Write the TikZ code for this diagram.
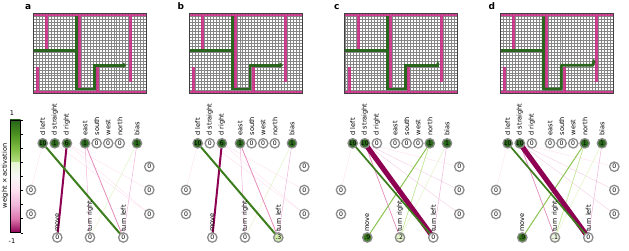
\documentclass[tikz,border=0pt]{standalone}
\usepackage{fontspec}
\setmainfont{DejaVu Sans}
\usetikzlibrary{backgrounds}
\definecolor{piA}{HTML}{276419}
\definecolor{piB}{HTML}{4D9221}
\definecolor{piC}{HTML}{7FBC41}
\definecolor{piD}{HTML}{B8E186}
\definecolor{piE}{HTML}{E6F5D0}
\definecolor{piF}{HTML}{F7F7F7}
\definecolor{piG}{HTML}{FDE0EF}
\definecolor{piH}{HTML}{F1B6DA}
\definecolor{piI}{HTML}{DE77AE}
\definecolor{piJ}{HTML}{C51B7D}
\definecolor{piK}{HTML}{8E0152}
\definecolor{wallc}{HTML}{CC2A85}
\definecolor{pathg}{HTML}{2A651D}
\definecolor{nodeg}{HTML}{2E6B1F}
\definecolor{nodeh}{HTML}{3A7A1F}
\definecolor{lg3}{HTML}{D3ECAE}
\definecolor{lg2}{HTML}{E3F3CB}
\definecolor{lg1}{HTML}{EEF6E2}
\def\cs{2.97}
\tikzset{
  neuron/.style={circle, draw=black!45, line width=1.3pt, minimum size=9.4pt, inner sep=0pt, fill=white, font=\fontsize{6.2}{7}\selectfont},
  lab/.style={rotate=90, anchor=west, inner sep=0pt, font=\fontsize{6.6}{7}\selectfont},
  gridln/.style={draw=black!48, line width=0.38pt},
  pathln/.style={draw=pathg, line width=2.8pt},
  panellab/.style={anchor=base west, inner sep=0pt, font=\fontsize{9}{10}\selectfont\bfseries},
  wall/.style={fill=wallc, fill opacity=0.88},
}
\newcommand\mazedraw[2]{%
\begin{scope}[shift={(#1,13.3)}]
  \foreach \i in {0,...,38} \draw[gridln] (\i*\cs,0) -- (\i*\cs,27*\cs);
  \foreach \j in {0,...,27} \draw[gridln] (0,\j*\cs) -- (38*\cs,\j*\cs);
  \fill[wall] (0,0) rectangle (38*\cs,\cs);
  \fill[wall] (0,26*\cs) rectangle (38*\cs,27*\cs);
  \fill[wall] (4*\cs,\cs) rectangle (5*\cs,12*\cs);
  \fill[wall] (15*\cs,\cs) rectangle (16*\cs,25*\cs);
  \fill[wall] (21*\cs,18*\cs) rectangle (22*\cs,26*\cs);
  \fill[wall] (32*\cs,\cs) rectangle (33*\cs,23*\cs);
  \fill[wall] (1*\cs,18*\cs) rectangle (2*\cs,26*\cs);
  \draw[pathln] (0,12.5*\cs) -- (14.5*\cs,12.5*\cs);
  #2
  \draw[black!75, line width=0.8pt] (0,0) rectangle (38*\cs,27*\cs);
\end{scope}}
\newcommand\topnodes[2]{\foreach \n/\x/\v/\fc in {#2} \node[neuron, fill=\fc] (#1-\n) at (\x,143.3) {\v};}
\newcommand\hidnodes[1]{\foreach \n/\x/\y in {L1/31/190, L2/31/214, R1/149.3/166.7, R2/149.3/190, R3/149.3/214} \node[neuron] (#1-\n) at (\x,\y) {0};}
\newcommand\outnodes[2]{\foreach \n/\x/\v/\fc in {#2} \node[neuron, fill=\fc] (#1-\n) at (\x,237.5) {\v};}
\newcommand\netlabels{%
  \foreach \x/\tx in {42.7/d left, 54.8/d straight, 66.9/d right, 85/east, 96.6/south, 108.2/west, 119.8/north, 137/bias} \node[lab] at (\x,135.5) {\tx};
  \foreach \x/\tx in {57.3/move, 90/turn right, 123.3/turn left} \node[lab] at (\x,231.8) {\tx};}
\begin{document}
\begin{tikzpicture}[x=1pt,y=-1pt]
\useasboundingbox (0,0) rectangle (629,251);
% panel letters
\node[panellab] (la) at (25,9.3) {a};
\node[panellab] (lb) at (177.3,9.3) {b};
\node[panellab] (lc) at (334,9.3) {c};
\node[panellab] (ld) at (488.3,9.3) {d};
% mazes
\mazedraw{33.5}{\draw[pathln] (14.5*\cs,1*\cs) -- (14.5*\cs,25.5*\cs) -- (20.5*\cs,25.5*\cs) -- (20.5*\cs,17.5*\cs) -- (30.3*\cs,17.5*\cs);
  \fill[pathg] (30.1*\cs,16.5*\cs) -- (31.3*\cs,17.5*\cs) -- (30.1*\cs,18.5*\cs) -- cycle;}
\mazedraw{189.2}{\draw[pathln] (14.5*\cs,1*\cs) -- (14.5*\cs,25.5*\cs) -- (20.5*\cs,25.5*\cs) -- (20.5*\cs,17.5*\cs) -- (30.6*\cs,17.5*\cs);
  \fill[pathg] (30.4*\cs,16.5*\cs) -- (31.6*\cs,17.5*\cs) -- (30.4*\cs,18.5*\cs) -- cycle;}
\mazedraw{344.7}{\draw[pathln] (14.5*\cs,1*\cs) -- (14.5*\cs,25.5*\cs) -- (20.5*\cs,25.5*\cs) -- (20.5*\cs,17.5*\cs) -- (31.6*\cs,17.5*\cs);
  \fill[pathg] (30.9*\cs,17*\cs) -- (31.35*\cs,16.1*\cs) -- (31.8*\cs,17*\cs) -- cycle;}
\mazedraw{500.3}{\draw[pathln, line join=round] (14.5*\cs,1*\cs) -- (14.5*\cs,25.5*\cs) -- (20.5*\cs,25.5*\cs) -- (20.5*\cs,17.5*\cs) -- (31.2*\cs,17.5*\cs) -- (31.4*\cs,16.4*\cs);
  \fill[pathg] (30.8*\cs,16.6*\cs) -- (31.5*\cs,15.2*\cs) -- (32.1*\cs,16.7*\cs) -- cycle;}
% colorbar
\shade[top color=piA, bottom color=piB] (10,120) rectangle (20.7,134.2);
\shade[top color=piB, bottom color=piC] (10,134.1) rectangle (20.7,148.3);
\shade[top color=piC, bottom color=piD] (10,148.2) rectangle (20.7,162.4);
\shade[top color=piD, bottom color=piE] (10,162.3) rectangle (20.7,176.4);
\shade[top color=piE, bottom color=piF] (10,162.3) rectangle (20.7,176.4);
\shade[top color=piF, bottom color=piG] (10,176.3) rectangle (20.7,190.6);
\shade[top color=piG, bottom color=piH] (10,190.5) rectangle (20.7,204.7);
\shade[top color=piH, bottom color=piI] (10,204.6) rectangle (20.7,218.7);
\shade[top color=piI, bottom color=piK] (10,218.6) rectangle (20.7,232.7);
\draw[line width=0.5pt] (10,120) rectangle (20.7,232.7);
\foreach \k in {0,...,8} \draw[line width=0.4pt] (20.7,120+\k*14.09) -- ++(2,0);
\node[font=\fontsize{6.6}{7}\selectfont, inner sep=0pt] (cbtop) at (12,112.7) {1};
\node[font=\fontsize{6.6}{7}\selectfont, inner sep=0pt] (cbbot) at (12,240.7) {-1};
\node[font=\fontsize{6.6}{7}\selectfont, inner sep=0pt, rotate=90] (cblab) at (5,176) {weight × activation};
% ---------- panel a network
\begin{scope}
\topnodes{a}{dl/42.7/10/nodeg, ds/54.8/1/nodeg, dr/66.9/6/nodeg, ea/85/1/nodeg, so/96.6/0/white, we/108.2/0/white, no/119.8/0/white, bi/137/1/nodeg}
\hidnodes{a}
\outnodes{a}{mv/57.3/0/white, tr/90/0/white, tl/123.3/0/white}
\netlabels
\end{scope}
% ---------- panel b network
\begin{scope}[xshift=155pt]
\topnodes{b}{dl/42.7/10/nodeg, ds/54.8/0/white, dr/66.9/6/nodeg, ea/85/1/nodeg, so/96.6/0/white, we/108.2/0/white, no/119.8/0/white, bi/137/1/nodeg}
\hidnodes{b}
\outnodes{b}{mv/57.3/0/white, tr/90/0/white, tl/123.3/.3/lg3}
\netlabels
\end{scope}
% ---------- panel c network
\begin{scope}[xshift=310pt]
\topnodes{c}{dl/42.7/10/nodeg, ds/54.8/10/nodeg, dr/66.9/0/white, ea/85/0/white, so/96.6/0/white, we/108.2/0/white, no/119.8/1/nodeg, bi/137/1/nodeg}
\hidnodes{c}
\outnodes{c}{mv/57.3/.9/nodeh, tr/90/.2/lg2, tl/123.3/0/white}
\netlabels
\end{scope}
% ---------- panel d network
\begin{scope}[xshift=465pt]
\topnodes{d}{dl/42.7/10/nodeg, ds/54.8/10/nodeg, dr/66.9/0/white, ea/85/0/white, so/96.6/0/white, we/108.2/0/white, no/119.8/1/nodeg, bi/137/1/nodeg}
\hidnodes{d}
\outnodes{d}{mv/57.3/.9/nodeh, tr/90/.1/lg1, tl/123.3/0/white}
\netlabels
\end{scope}
% ---------- connections
\begin{pgfonlayer}{background}
\foreach \p in {a,b}{
  \draw[piG, line width=0.4pt] (\p-dl.center) -- (\p-L1.center);
  \draw[piG, line width=0.4pt] (\p-dr.center) -- (\p-R2.center);
  \draw[piG, line width=0.4pt] (\p-dr.center) -- (\p-R3.center);
  \draw[piG, line width=0.4pt] (\p-ds.center) -- (\p-R3.center);
  \draw[piH, line width=0.5pt] (\p-ea.center) -- (\p-tr.center);
  \draw[piE, line width=0.6pt] (\p-bi.center) -- (\p-tr.center);
  \draw[piH, line width=0.5pt] (\p-bi.center) -- (\p-tl.center);
  \draw[piI!85!white, line width=0.8pt] (\p-ea.center) -- (\p-tl.center);
  \draw[piK, line width=2pt] (\p-dr.center) -- (\p-mv.center);
  \draw[piB!55!piA, line width=2pt] (\p-dl.center) -- (\p-tl.center);
}
\foreach \p in {c,d}{
  \draw[piG, line width=0.4pt] (\p-dl.center) -- (\p-L1.center);
  \draw[piG, line width=0.4pt] (\p-ds.center) -- (\p-R1.center);
  \draw[piH!70!white, line width=0.4pt] (\p-ds.center) -- (\p-R2.center);
  \draw[piH!70!white, line width=0.4pt] (\p-ds.center) -- (\p-R3.center);
  \draw[piE, line width=0.6pt] (\p-bi.center) -- (\p-tr.center);
  \draw[piH, line width=0.5pt] (\p-bi.center) -- (\p-tl.center);
  \draw[piI!85!white, line width=0.7pt] (\p-ds.center) -- (\p-tr.center);
  \draw[piD!80!piE, line width=0.7pt] (\p-no.center) -- (\p-tr.center);
  \draw[piC!80!piD, line width=1pt] (\p-no.center) -- (\p-mv.center);
  \draw[piK, line width=5pt] (\p-ds.center) -- (\p-tl.center);
  \draw[piB!55!piA, line width=1.7pt] (\p-dl.center) -- (\p-tl.center);
}
\end{pgfonlayer}
\end{tikzpicture}
\end{document}
